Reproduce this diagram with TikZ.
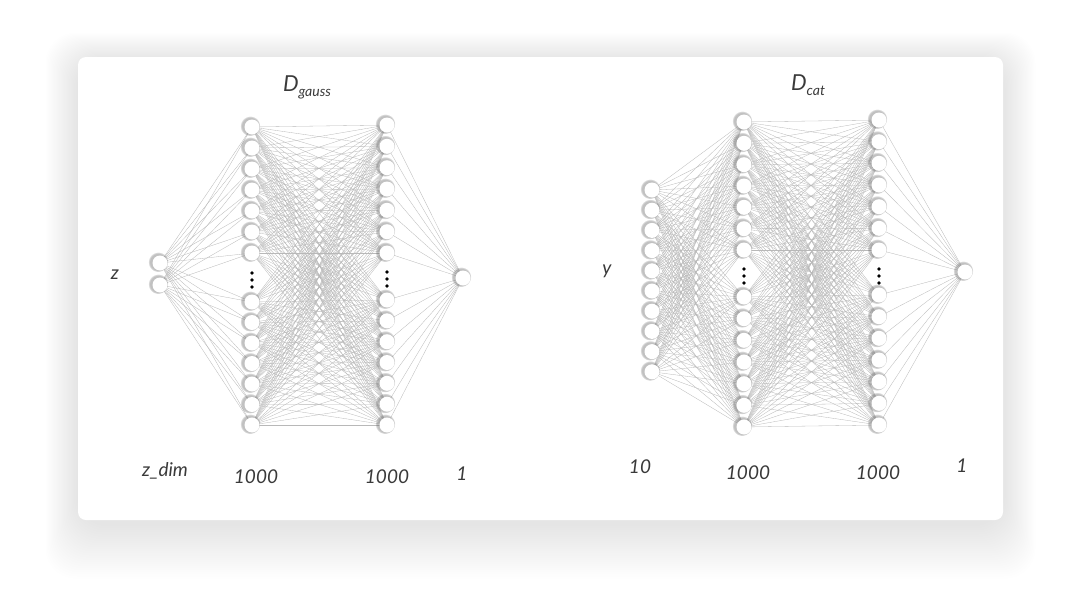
\documentclass[tikz,border=0pt]{standalone}
\usepackage{fontspec}
\setmainfont{Lato}
\usetikzlibrary{shadows}
\pgfdeclarelayer{bg}
\pgfdeclarelayer{edges}
\pgfsetlayers{bg,edges,main}
\definecolor{txt}{HTML}{3A3A3A}
\definecolor{edgecol}{HTML}{B8B8B8}
\tikzset{
  neuron/.style={circle, fill=white, inner sep=0pt, minimum size=15pt,
    circular drop shadow={shadow xshift=-1.4pt, shadow yshift=0.8pt, shadow scale=1.35, fill=black!60, opacity=0.4}},
  conn/.style={draw=edgecol, line width=0.3pt},
  lbl/.style={text=txt, inner sep=0pt, font=\itshape\fontsize{19}{22}\selectfont},
  ttl/.style={text=txt, inner sep=0pt, font=\itshape\fontsize{22}{25}\selectfont},
  vdot/.style={circle, fill=black, inner sep=0pt, minimum size=3.8pt},
}
\begin{document}
\begin{tikzpicture}[x=1pt,y=-1pt]
\useasboundingbox (0,0) rectangle (1080,600);
\begin{pgfonlayer}{bg}
  \fill[white] (0,0) rectangle (1080,600);
  \foreach \k in {1,...,26}
    \fill[black, opacity=0.0045, rounded corners=30pt] (78-1.25*\k, 60-1.05*\k) rectangle (1003+1.25*\k, 524+2.1*\k);
  \fill[white, rounded corners=8pt] (78,57) rectangle (1003,520);
\end{pgfonlayer}

% ---------- D_gauss ----------
\node[neuron] (z1) at (160,263) {};
\node[neuron] (z2) at (160,285) {};
\foreach \y [count=\i] in {127,148,169,190,211,232,253,302,322.5,343,363.5,384,404.5,425}
  \node[neuron] (ga\i) at (252,\y) {};
\foreach \y [count=\i] in {125,146.3,167.7,189,210.3,231.7,253,300,320.8,341.7,362.5,383.3,404.2,425}
  \node[neuron] (gb\i) at (387,\y) {};
\node[neuron] (go) at (463,278) {};
\node[vdot] (gad1) at (252,273) {};
\node[vdot] (gad2) at (252,280) {};
\node[vdot] (gad3) at (252,287) {};
\node[vdot] (gbd1) at (387,272) {};
\node[vdot] (gbd2) at (387,279) {};
\node[vdot] (gbd3) at (387,286) {};

% ---------- D_cat ----------
\foreach \i in {1,...,10}
  \node[neuron] (c\i) at (652,{190+20.2*(\i-1)}) {};
\foreach \y [count=\i] in {122,143.3,164.7,186,207.3,228.7,250,297,318.7,340.3,362,383.7,405.3,427}
  \node[neuron] (ca\i) at (744,\y) {};
\foreach \y [count=\i] in {120,141.7,163.3,185,206.7,228.3,250,295,316.7,338.3,360,381.7,403.3,425}
  \node[neuron] (cb\i) at (879,\y) {};
\node[neuron] (co) at (965,272) {};
\node[vdot] (cad1) at (744,269) {};
\node[vdot] (cad2) at (744,276) {};
\node[vdot] (cad3) at (744,283) {};
\node[vdot] (cbd1) at (879,269) {};
\node[vdot] (cbd2) at (879,276) {};
\node[vdot] (cbd3) at (879,283) {};

\begin{pgfonlayer}{edges}
  \foreach \i in {1,2}
    \foreach \j in {1,...,14}
      \draw[conn] (z\i.center) -- (ga\j.center);
  \foreach \i in {1,...,14}
    \foreach \j in {1,...,14}
      \draw[conn] (ga\i.center) -- (gb\j.center);
  \foreach \i in {1,...,14}
    \draw[conn] (gb\i.center) -- (go.center);
  \foreach \i in {1,...,10}
    \foreach \j in {1,...,14}
      \draw[conn] (c\i.center) -- (ca\j.center);
  \foreach \i in {1,...,14}
    \foreach \j in {1,...,14}
      \draw[conn] (ca\i.center) -- (cb\j.center);
  \foreach \i in {1,...,14}
    \draw[conn] (cb\i.center) -- (co.center);
\end{pgfonlayer}

% ---------- labels ----------
\node[ttl] (tg) at (307,87) {D\raisebox{-5pt}{\fontsize{14}{16}\selectfont gauss}};
\node[ttl] (tc) at (808,85) {D\raisebox{-5pt}{\fontsize{14}{16}\selectfont cat}};
\node[lbl] (lz) at (115,275) {z};
\node[lbl] (ly) at (607,271) {y};
\node[lbl] (l1) at (165,471) {z\_dim};
\node[lbl] (l2) at (256,477) {1000};
\node[lbl] (l3) at (387,477) {1000};
\node[lbl] (l4) at (462,474) {1};
\node[lbl] (l5) at (640,467) {10};
\node[lbl] (l6) at (748,473) {1000};
\node[lbl] (l7) at (878,473) {1000};
\node[lbl] (l8) at (962,466) {1};
\end{tikzpicture}
\end{document}
